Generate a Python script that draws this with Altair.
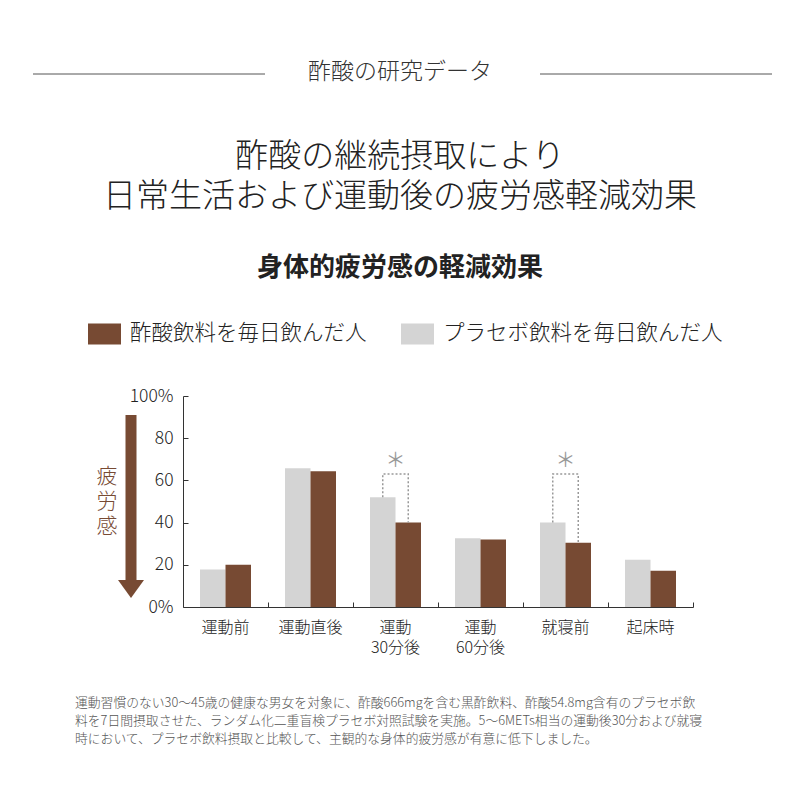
import altair as alt
import pandas as pd

FONT = "Noto Sans CJK JP"
BROWN = "#774a33"
GREY = "#d4d4d4"
INK = "#333333"

ACE = "酢酸飲料を毎日飲んだ人"
PLA = "プラセボ飲料を毎日飲んだ人"

# "|" marks a line break in the axis label
cats = ["運動前", "運動直後", "運動|30分後", "運動|60分後", "就寝前", "起床時"]
acetic = [20.0, 64.3, 40.0, 32.0, 30.4, 17.2]
placebo = [17.8, 65.7, 52.0, 32.6, 40.0, 22.4]

# significant differences (bracket + asterisk)
sig_cats = ["運動|30分後", "就寝前"]
bracket_top = 63
star_level = 69

footnote = [
    "運動習慣のない30～45歳の健康な男女を対象に、酢酸666mgを含む黒酢飲料、酢酸54.8mg含有のプラセボ飲",
    "料を7日間摂取させた、ランダム化二重盲検プラセボ対照試験を実施。5～6METs相当の運動後30分および就寝",
    "時において、プラセボ飲料摂取と比較して、主観的な身体的疲労感が有意に低下しました。",
]

rows = []
for c, a, p in zip(cats, acetic, placebo):
    rows.append({"cat": c, "grp": PLA, "val": p})
    rows.append({"cat": c, "grp": ACE, "val": a})
df = pd.DataFrame(rows)

br = []
for c in sig_cats:
    i = cats.index(c)
    br += [
        {"cat": c, "grp": PLA, "val": placebo[i], "ord": 0},
        {"cat": c, "grp": PLA, "val": bracket_top, "ord": 1},
        {"cat": c, "grp": ACE, "val": bracket_top, "ord": 2},
        {"cat": c, "grp": ACE, "val": acetic[i], "ord": 3},
    ]
bdf = pd.DataFrame(br)
sdf = pd.DataFrame({"cat": sig_cats, "val": [star_level] * len(sig_cats)})

xscale = alt.Scale(domain=cats, paddingInner=0.4, paddingOuter=0.2)
yscale = alt.Scale(domain=[0, 100])
offscale = alt.Scale(domain=[PLA, ACE])

bars = alt.Chart(df).mark_bar().encode(
    x=alt.X("cat:N", scale=xscale, title=None, axis=alt.Axis(
        orient="bottom", ticks=False, labelAngle=0, labelFontSize=16,
        labelColor="#222", labelPadding=12, labelLineHeight=20, labelFontWeight=300,
        labelExpr="split(datum.label, '|')", domainColor=INK)),
    xOffset=alt.XOffset("grp:N", scale=offscale),
    y=alt.Y("val:Q", scale=yscale, title=None, axis=alt.Axis(
        orient="left", ticks=False, grid=False, values=[0, 20, 40, 60, 80, 100],
        labelFontSize=17.5, labelColor="#222", labelPadding=10, domainColor=INK,
        labelFontWeight=300,
        labelExpr="datum.value == 0 || datum.value == 100 ? datum.value + '%' : datum.value")),
    color=alt.Color("grp:N", scale=alt.Scale(domain=[ACE, PLA], range=[BROWN, GREY]),
        legend=alt.Legend(
            title=None, orient="none", direction="horizontal", legendX=-95, legendY=-79,
            symbolType="M-1,-0.64H1V0.64H-1Z", symbolSize=1089, symbolStrokeWidth=0,
            symbolOpacity=1, labelFontSize=21.5, labelColor="#222", labelOffset=9,
            columnPadding=34, labelLimit=400, labelFont=FONT, labelFontWeight=300)),
)

# inward-pointing ticks on both axes; x ticks sit on the category boundaries
ticks = alt.Chart(df).mark_point(opacity=0).encode(
    x=alt.X("cat:N", scale=xscale, title=None, axis=alt.Axis(
        orient="top", offset=-211, labels=False, domain=False, tickOffset=42.5,
        tickSize=5, tickColor=INK)),
    y=alt.Y("val:Q", scale=yscale, title=None, axis=alt.Axis(
        orient="right", offset=-510, labels=False, domain=False, grid=False,
        values=[0, 20, 40, 60, 80, 100], tickSize=5, tickColor=INK)),
)

brackets = alt.Chart(bdf).mark_line(
    color="#999999", strokeDash=[2, 2], strokeWidth=1.5
).encode(
    x=alt.X("cat:N", scale=xscale, axis=None),
    xOffset=alt.XOffset("grp:N", scale=offscale),
    y=alt.Y("val:Q", scale=yscale, axis=None),
    detail="cat:N",
    order="ord:Q",
)

stars = alt.Chart(sdf).mark_text(
    text="＊", font=FONT, fontSize=20, color="#999999", baseline="middle"
).encode(
    x=alt.X("cat:N", scale=xscale, axis=None),
    y=alt.Y("val:Q", scale=yscale, axis=None),
)

one = pd.DataFrame({"k": [0]})
base = alt.Chart(one)

header = base.mark_text(text="酢酸の研究データ", font=FONT, fontSize=23, fontWeight=300,
                        color=INK, align="center", baseline="middle").encode(
    x=alt.value(217), y=alt.value(-324))
rule_l = base.mark_rule(color="#555555", strokeWidth=1).encode(
    x=alt.value(-150), x2=alt.value(82), y=alt.value(-322))
rule_r = base.mark_rule(color="#555555", strokeWidth=1).encode(
    x=alt.value(357), x2=alt.value(589), y=alt.value(-322))
title1 = base.mark_text(text="酢酸の継続摂取により", font=FONT, fontSize=33, fontWeight=300,
                        color="#222", align="center", baseline="middle").encode(
    x=alt.value(217), y=alt.value(-239))
title2 = base.mark_text(text="日常生活および運動後の疲労感軽減効果", font=FONT, fontSize=33,
                        fontWeight=300, color="#222", align="center",
                        baseline="middle").encode(x=alt.value(217), y=alt.value(-199))
subtitle = base.mark_text(text="身体的疲労感の軽減効果", font=FONT, fontSize=26,
                          fontWeight="bold", color="#222", align="center",
                          baseline="middle").encode(x=alt.value(217), y=alt.value(-128))

arrow_shaft = base.mark_rule(color=BROWN, strokeWidth=11, strokeCap="butt").encode(
    x=alt.value(-52), y=alt.value(19), y2=alt.value(185))
arrow_head = base.mark_point(shape="M-1,-0.7L1,-0.7L0,0.7Z", size=676, filled=True,
                             color=BROWN, opacity=1).encode(
    x=alt.value(-52), y=alt.value(193))
ylabel = base.mark_text(text=["疲", "労", "感"], font=FONT, fontSize=21, fontWeight=300,
                        color=BROWN, lineHeight=25, align="center",
                        baseline="middle").encode(x=alt.value(-76), y=alt.value(81))

note = base.mark_text(text=footnote, font=FONT, fontSize=12.8, fontWeight=300,
                      color="#555555", lineHeight=18, align="left",
                      baseline="top").encode(x=alt.value(-108), y=alt.value(301))

chart = alt.layer(
    bars, ticks, brackets, stars,
    header, rule_l, rule_r, title1, title2, subtitle,
    arrow_shaft, arrow_head, ylabel, note,
).resolve_axis(
    x="independent", y="independent"
).properties(
    width=510, height=211,
    autosize=alt.AutoSizeParams(type="none"),
    padding={"left": 175, "top": 388, "right": 99, "bottom": 185},
    background="white",
).configure(
    font=FONT
).configure_view(
    stroke=None
)

chart.save("out.html", embed_options={"renderer": "svg", "actions": False})
